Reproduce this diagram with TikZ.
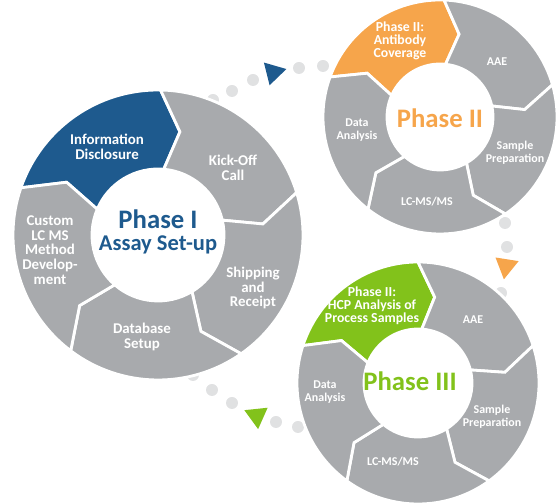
\documentclass[tikz,border=0pt]{standalone}
\usepackage{fontspec}
\setmainfont{Carlito}
\definecolor{phaseblue}{RGB}{30,90,142}
\definecolor{phaseorange}{RGB}{246,165,75}
\definecolor{phasegreen}{RGB}{130,194,27}
\definecolor{stepgray}{RGB}{168,170,173}
\definecolor{dotgray}{RGB}{224,225,226}
% one chevron piece of a ring: outer r, inner r, start angle, end angle, colour
\newcommand{\ringpart}[5]{%
  \fill[#5, draw=white, line width=2pt]
    (#3:#1) arc[start angle=#3, end angle=#4, radius=#1]
    -- ({#4-11}:{(#1+#2)/2}) -- ({#4-4}:#2)
    arc[start angle={#4-4}, end angle={#3-4}, radius=#2]
    -- ({#3-11}:{(#1+#2)/2}) -- cycle;}
% triangle on the dotted path: centre x, centre y, direction, colour
\newcommand{\flowtip}[4]{%
  \fill[#4] (#1,#2) ++(#3:13.5) -- ++({#3+150}:23.4) -- ++({#3+270}:23.4) -- cycle;}
\tikzset{
  steplabel/.style={text=white, align=center, font=\bfseries\fontsize{10.6}{10.4}\selectfont},
  smalllabel/.style={text=white, align=center, font=\bfseries\fontsize{8.5}{9.2}\selectfont},
  keylabel/.style={text=white, align=center, font=\bfseries\fontsize{9.8}{9.2}\selectfont},
  phasetitle/.style={align=center, font=\bfseries\fontsize{19}{20}\selectfont},
  flowdot/.style={circle, fill=dotgray, inner sep=0pt, minimum size=3mm}
}

\begin{document}
\begin{tikzpicture}[x=0.025cm, y=0.025cm]
  \useasboundingbox (0,0) rectangle (560,503);
  % dotted paths between the phases
  \foreach \px/\py [count=\i] in {213/403, 232/412, 253/423, 299/435, 323/437}
    \node[flowdot] (dotA\i) at (\px,\py) {};
  \foreach \px/\py [count=\i] in {505/280, 507/256, 501/210}
    \node[flowdot] (dotB\i) at (\px,\py) {};
  \foreach \px/\py [count=\i] in {193/128, 212/113, 232/100, 276/81, 298/76}
    \node[flowdot] (dotC\i) at (\px,\py) {};
  \flowtip{273.3}{430.7}{14}{phaseblue}
  \flowtip{506}{237}{-99}{phaseorange}
  \flowtip{256.7}{87.3}{-84}{phasegreen}

  % Phase I
  \begin{scope}[shift={(158,268)}]
    \ringpart{145}{66}{161}{89}{phaseblue}
    \foreach \a in {89,17,-55,-127}
      {\ringpart{145}{66}{\a}{\a-72}{stepgray}}
  \end{scope}
  \node[steplabel] (info) at (107,356) {Information\\Disclosure};
  \node[steplabel] (kickoff) at (233,335) {Kick-Off\\Call};
  \node[steplabel] (shipping) at (253,215) {Shipping\\and\\Receipt};
  \node[steplabel] (database) at (142,166) {Database\\Setup};
  \node[steplabel] (custom) at (50,253) {Custom\\LC MS\\Method\\Develop-\\ment};
  \node[phasetitle, text=phaseblue] (phaseI) at (158,284) {Phase I};
  \node[text=phaseblue, font=\bfseries\fontsize{16}{17}\selectfont] (assay) at (158,258) {Assay Set-up};

  % Phase II
  \begin{scope}[shift={(440,386)}]
    \ringpart{117}{53}{160}{88}{phaseorange}
    \foreach \a in {88,16,-56,-128}
      {\ringpart{117}{53}{\a}{\a-72}{stepgray}}
  \end{scope}
  \node[keylabel] (antibody) at (400,462) {Phase II:\\Antibody\\Coverage};
  \node[smalllabel] (aaeII) at (497,441) {AAE};
  \node[smalllabel] (sampleII) at (515,350) {Sample\\Preparation};
  \node[smalllabel] (lcmsII) at (427,301) {LC-MS/MS};
  \node[smalllabel] (dataII) at (357,373) {Data\\Analysis};
  \node[phasetitle, text=phaseorange] (phaseII) at (440,385) {Phase II};

  % Phase III
  \begin{scope}[shift={(418,120)}]
    \ringpart{121}{54}{162}{90}{phasegreen}
    \foreach \a in {90,18,-54,-126}
      {\ringpart{121}{54}{\a}{\a-72}{stepgray}}
  \end{scope}
  \node[keylabel] (hcp) at (372,197) {Phase II:\\HCP Analysis of\\Process Samples};
  \node[smalllabel] (aaeIII) at (473,183) {AAE};
  \node[smalllabel] (sampleIII) at (492,86) {Sample\\Preparation};
  \node[smalllabel] (lcmsIII) at (393,41) {LC-MS/MS};
  \node[smalllabel] (dataIII) at (325,111) {Data\\Analysis};
  \node[phasetitle, text=phasegreen] (phaseIII) at (410,122) {Phase III};
\end{tikzpicture}
\end{document}
